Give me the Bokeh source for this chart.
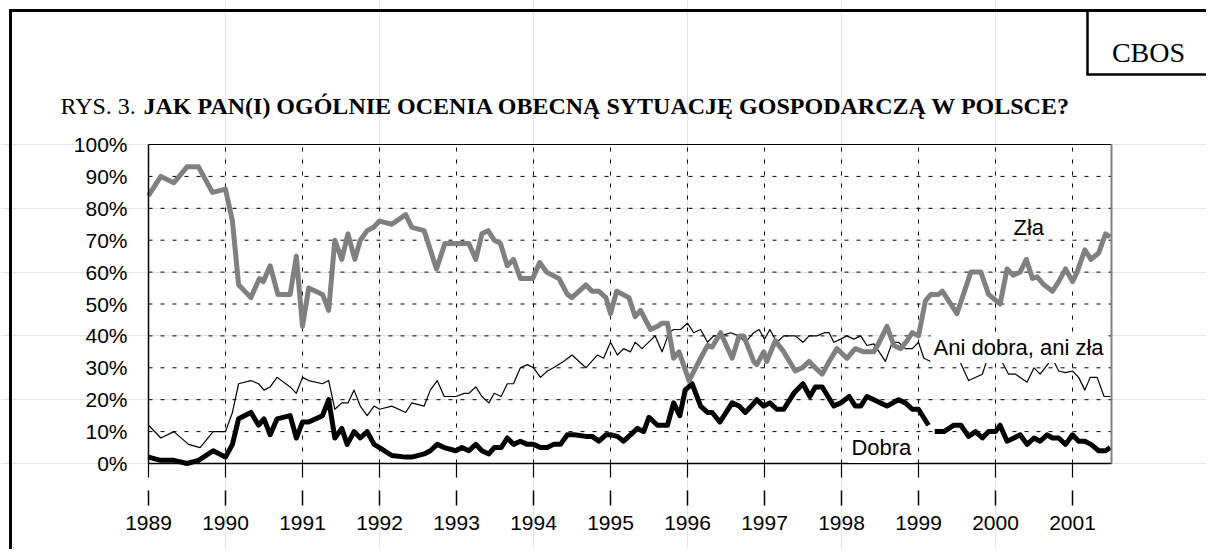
from bokeh.plotting import figure
from bokeh.models import Range1d, FixedTicker, Label, LinearAxis
from bokeh.embed import file_html
from bokeh.resources import INLINE

# ---------------- data ----------------
years = list(range(1989, 2002))
y_ticks = list(range(0, 101, 10))
x_start, x_end = 1989, 2001.5

zla_x = [1989.00, 1989.16, 1989.33, 1989.50, 1989.65, 1989.83, 1990.00, 1990.09, 1990.17, 1990.33,
         1990.44, 1990.49, 1990.58, 1990.68, 1990.84, 1990.92, 1991.00, 1991.08, 1991.26, 1991.34,
         1991.42, 1991.51, 1991.59, 1991.68, 1991.75, 1991.84, 1991.92, 1992.00, 1992.16, 1992.34,
         1992.42, 1992.58, 1992.74, 1992.85, 1992.99, 1993.16, 1993.25, 1993.33, 1993.41, 1993.49,
         1993.57, 1993.66, 1993.74, 1993.83, 1993.99, 1994.08, 1994.17, 1994.33, 1994.44, 1994.50,
         1994.68, 1994.76, 1994.85, 1994.94, 1995.00, 1995.08, 1995.24, 1995.32, 1995.39, 1995.52,
         1995.61, 1995.67, 1995.74, 1995.82, 1995.89, 1996.02, 1996.17, 1996.26, 1996.32, 1996.43,
         1996.58, 1996.67, 1996.73, 1996.86, 1996.90, 1996.99, 1997.03, 1997.14, 1997.25, 1997.40,
         1997.49, 1997.58, 1997.66, 1997.75, 1997.84, 1997.94, 1998.07, 1998.18, 1998.29, 1998.42,
         1998.48, 1998.59, 1998.68, 1998.77, 1998.85, 1998.92, 1999.00, 1999.09, 1999.16, 1999.26,
         1999.31, 1999.50, 1999.68, 1999.81, 1999.91, 2000.06, 2000.15, 2000.23, 2000.32, 2000.40,
         2000.48, 2000.54, 2000.63, 2000.74, 2000.82, 2000.91, 2001.00, 2001.06, 2001.16, 2001.24,
         2001.34, 2001.43, 2001.49]
zla_y = [84, 90, 88, 93, 93, 85, 86, 76, 56, 52,
         58, 57, 62, 53, 53, 65, 43, 55, 53, 48,
         70, 64, 72, 64, 70, 73, 74, 76, 75, 78,
         74, 73, 61, 69, 69, 69, 64, 72, 73, 70,
         69, 62, 64, 58, 58, 63, 60, 58, 53, 52,
         56, 54, 54, 52, 47, 54, 52, 46, 48, 42,
         43, 44, 44, 33, 35, 26, 33, 37, 36.5, 41,
         33, 40, 40, 32, 31, 35, 32, 38.5, 35, 29,
         30, 32, 30, 28, 32, 36, 33, 36, 35, 35,
         37.5, 43, 37, 36, 38.5, 41, 40, 51, 53, 53,
         54, 47, 60, 60, 53, 50, 61, 59, 60, 64,
         58, 58.5, 56, 54, 57, 61, 57, 60, 67, 64,
         66, 72, 71]

ani_x = [1989.00, 1989.16, 1989.33, 1989.52, 1989.67, 1989.84, 1990.00, 1990.09, 1990.17, 1990.33,
         1990.43, 1990.50, 1990.58, 1990.67, 1990.84, 1990.92, 1991.00, 1991.08, 1991.26, 1991.34,
         1991.42, 1991.51, 1991.59, 1991.67, 1991.75, 1991.84, 1991.93, 1992.00, 1992.16, 1992.34,
         1992.42, 1992.58, 1992.66, 1992.75, 1992.84, 1992.99, 1993.10, 1993.16, 1993.25, 1993.33,
         1993.42, 1993.49, 1993.58, 1993.66, 1993.74, 1993.83, 1993.92, 1994.00, 1994.09, 1994.18,
         1994.26, 1994.39, 1994.50, 1994.68, 1994.83, 1994.91, 1995.00, 1995.09, 1995.17, 1995.26,
         1995.32, 1995.41, 1995.58, 1995.67, 1995.76, 1995.82, 1995.91, 1996.00, 1996.08, 1996.17,
         1996.26, 1996.34, 1996.43, 1996.56, 1996.67, 1996.75, 1996.86, 1996.93, 1997.00, 1997.07,
         1997.16, 1997.25, 1997.40, 1997.50, 1997.58, 1997.68, 1997.78, 1997.84, 1997.90, 1997.99,
         1998.07, 1998.16, 1998.25, 1998.33, 1998.42, 1998.57, 1998.66, 1998.74, 1998.83, 1998.92,
         1999.00, 1999.07, 1999.16, 1999.42, 1999.50, 1999.65, 1999.83, 1999.91, 2000.00, 2000.06,
         2000.17, 2000.26, 2000.41, 2000.50, 2000.58, 2000.74, 2000.82, 2000.91, 2001.00, 2001.08,
         2001.16, 2001.23, 2001.32, 2001.41, 2001.49]
ani_y = [12, 8, 10, 6, 5, 10, 10, 16, 25, 26,
         25, 23, 24, 27, 24, 22, 27, 26, 25, 26,
         17, 19, 19, 23, 18, 15, 18, 17, 18, 16,
         19, 18, 23, 26, 21, 21, 22, 22, 24, 21,
         19, 22, 21, 25, 25, 30, 31, 30, 27, 29,
         30, 32, 34, 30, 34, 33, 38, 34, 36, 35,
         38, 36, 40, 35, 41, 42, 42, 44, 41, 42,
         38, 40, 40, 41, 40, 38, 41, 42, 39, 42,
         38, 40, 40, 38, 40, 40, 41, 41, 38, 39,
         40, 39, 40, 37, 37.5, 32, 38, 38, 36, 36,
         38, 33, 32, 32, 34, 26, 28, 34, 33, 33,
         28, 28, 25.5, 30, 28, 33, 29, 28.5, 29, 27,
         23, 27, 27, 21, 21]

dobra_x = [1989.00, 1989.16, 1989.33, 1989.50, 1989.65, 1989.84, 1990.00, 1990.09, 1990.17, 1990.33,
           1990.43, 1990.50, 1990.58, 1990.67, 1990.84, 1990.92, 1991.00, 1991.08, 1991.26, 1991.34,
           1991.42, 1991.51, 1991.58, 1991.67, 1991.75, 1991.84, 1991.93, 1992.00, 1992.16, 1992.34,
           1992.42, 1992.58, 1992.66, 1992.75, 1992.84, 1992.99, 1993.07, 1993.16, 1993.25, 1993.33,
           1993.42, 1993.49, 1993.58, 1993.66, 1993.74, 1993.83, 1993.92, 1994.00, 1994.09, 1994.18,
           1994.26, 1994.35, 1994.44, 1994.53, 1994.68, 1994.76, 1994.85, 1994.94, 1995.00, 1995.09,
           1995.17, 1995.26, 1995.35, 1995.43, 1995.50, 1995.61, 1995.74, 1995.82, 1995.90, 1995.97,
           1996.06, 1996.17, 1996.26, 1996.32, 1996.42, 1996.58, 1996.67, 1996.75, 1996.83, 1996.90,
           1996.99, 1997.07, 1997.16, 1997.25, 1997.38, 1997.50, 1997.59, 1997.66, 1997.75, 1997.90,
           1997.99, 1998.10, 1998.18, 1998.25, 1998.33, 1998.42, 1998.59, 1998.74, 1998.83, 1998.92,
           1999.00, 1999.13, 1999.17, 1999.21, 1999.33, 1999.46, 1999.55, 1999.65, 1999.74, 1999.83,
           1999.91, 2000.00, 2000.06, 2000.15, 2000.24, 2000.32, 2000.41, 2000.50, 2000.58, 2000.67,
           2000.74, 2000.82, 2000.91, 2001.00, 2001.08, 2001.16, 2001.24, 2001.34, 2001.43, 2001.49]
dobra_y = [2, 1, 1, 0, 1, 4, 2, 6, 14, 16,
           12, 14, 9, 14, 15, 8, 13, 13, 15, 20,
           8, 11, 6, 10, 8, 10, 6, 5, 2.5, 2,
           2, 3, 4, 6, 5, 4, 5, 4, 6, 4,
           3, 5, 5, 8, 6, 7, 6, 6, 5, 5,
           6, 6, 9, 9, 8.5, 8.5, 7, 9, 9, 8.5,
           7, 9, 11, 10, 14.5, 12, 12, 19, 15, 23,
           25, 18, 16, 16, 13, 19, 18, 16, 18, 20,
           18, 19, 17, 17, 22, 25, 21, 24, 24, 18,
           19, 21, 18, 18, 21, 20, 18, 20, 19, 17,
           17, 12, float("nan"), 10, 10, 12, 12, 8.5, 10, 8,
           10, 10, 12, 7, 8, 9, 6, 8, 7, 9,
           8, 8, 6, 9, 7, 7, 6, 4, 4, 5]

series_labels = ["Zła", "Ani dobra, ani zła", "Dobra"]
title_prefix = "RYS. 3."
title_main = "JAK PAN(I) OGÓLNIE OCENIA OBECNĄ SYTUACJĘ GOSPODARCZĄ W POLSCE?"
source_label = "CBOS"

# ---------------- layout constants (pixels) ----------------
W, H = 1206, 549
PLOT_LEFT, PX_PER_YEAR = 148, 77.0      # x of 1989, px per year
PLOT_ZERO, PX_PER_PCT = 463, 3.19       # y of 0 %, px per percentage point

x0 = x_start - PLOT_LEFT / PX_PER_YEAR
x1 = x_start + (W - PLOT_LEFT) / PX_PER_YEAR
y0 = -(H - PLOT_ZERO) / PX_PER_PCT
y1 = PLOT_ZERO / PX_PER_PCT


def px_x(px):
    """page pixel column -> x data value"""
    return x0 + px / PX_PER_YEAR


def px_y(py):
    """page pixel row (from top) -> y data value"""
    return y1 - py / PX_PER_PCT


p = figure(width=W, height=H, output_backend="svg", toolbar_location=None, title=None,
           x_range=Range1d(x0, x1), y_range=Range1d(y0, y1),
           x_axis_location=None, y_axis_location=None, min_border=0)
p.background_fill_color = "white"
p.border_fill_color = "white"
p.outline_line_color = None

SANS = "Liberation Sans"
SERIF = "Liberation Serif"

# page frame (left and top edges) and the CBOS box
p.line([px_x(10), px_x(10), px_x(W + 30)], [px_y(H + 30), px_y(10), px_y(10)],
       line_color="black", line_width=3, line_join="miter")
p.line([px_x(1087), px_x(1087), px_x(W + 30)], [px_y(10), px_y(74), px_y(74)],
       line_color="black", line_width=2.5, line_join="miter")

# dashed grid inside the plot area (from the tick lists)
p.multi_line([[yr, yr] for yr in years[1:]], [[0, 100] for _ in years[1:]],
             line_color="black", line_width=1, line_dash="4 8")
p.multi_line([[x_start, x_end] for _ in y_ticks[1:-1]], [[v, v] for v in y_ticks[1:-1]],
             line_color="black", line_width=1, line_dash="4 8")

# x axis at 0 % with short ticks
xa = LinearAxis(fixed_location=0, bounds=(x_start, x_end), ticker=FixedTicker(ticks=years))
xa.minor_tick_line_color = None
xa.major_tick_in = 0
xa.major_tick_out = 14
xa.major_tick_line_width = 1.2
xa.axis_line_color = "black"
xa.axis_line_width = 1.5
xa.major_label_text_color = None
p.add_layout(xa, "below")

# lower tick row with year labels
xb = LinearAxis(fixed_location=-(490 - PLOT_ZERO) / PX_PER_PCT, bounds=(x_start, x_end),
                ticker=FixedTicker(ticks=years))
xb.minor_tick_line_color = None
xb.axis_line_color = None
xb.major_tick_in = 0
xb.major_tick_out = 15
xb.major_tick_line_width = 1.5
xb.major_label_standoff = 10
xb.major_label_text_font = SANS
xb.major_label_text_font_size = "21px"
xb.major_label_text_color = "black"
p.add_layout(xb, "below")

# y axis
ya = LinearAxis(fixed_location=x_start, bounds=(0, 100), ticker=FixedTicker(ticks=y_ticks))
ya.major_label_overrides = {v: f"{v}%" for v in y_ticks}
ya.minor_tick_line_color = None
ya.major_tick_in = 0
ya.major_tick_out = 0
ya.axis_line_color = "black"
ya.axis_line_width = 1.5
ya.major_label_standoff = 21
ya.major_label_text_font = SANS
ya.major_label_text_font_size = "21px"
ya.major_label_text_color = "black"
p.add_layout(ya, "left")

# top and right edges of the plot area
top_edge = LinearAxis(fixed_location=100, bounds=(x_start, x_end), ticker=FixedTicker(ticks=[]))
top_edge.axis_line_color = "black"
top_edge.axis_line_width = 1
top_edge.major_tick_line_color = None
top_edge.minor_tick_line_color = None
top_edge.major_label_text_color = None
p.add_layout(top_edge, "above")

right_edge = LinearAxis(fixed_location=x_end, bounds=(0, 100), ticker=FixedTicker(ticks=[]))
right_edge.axis_line_color = "#808080"
right_edge.axis_line_width = 2
right_edge.major_tick_line_color = None
right_edge.minor_tick_line_color = None
right_edge.major_label_text_color = None
p.add_layout(right_edge, "right")

# series
p.line(ani_x, ani_y, line_color="black", line_width=1.2, line_join="round")
p.line(dobra_x, dobra_y, line_color="black", line_width=5, line_join="round")
p.line(zla_x, zla_y, line_color="#808080", line_width=5, line_join="round")

# series labels
p.add_layout(Label(x=2000.234, y=74.0, text=series_labels[0], text_font=SANS, text_font_size="22px",
                   text_baseline="alphabetic", text_color="black"))
p.add_layout(Label(x=1999.156, y=36.4, text=series_labels[1], text_font=SANS, text_font_size="22px",
                   text_baseline="alphabetic", text_color="black",
                   background_fill_color="white", padding=3))
p.add_layout(Label(x=1998.09, y=5.0, text=series_labels[2], text_font=SANS, text_font_size="22px",
                   text_baseline="alphabetic", text_color="black",
                   background_fill_color="white", padding=3))

# CBOS label
p.add_layout(Label(x=1148, y=H - 52, x_units="screen", y_units="screen", text=source_label,
                   text_font=SERIF, text_font_size="28px", text_align="center",
                   text_baseline="alphabetic", text_color="black"))

# title
p.add_layout(Label(x=60, y=H - 105, x_units="screen", y_units="screen", text=title_prefix,
                   text_font=SERIF, text_font_size="24px", text_baseline="alphabetic", text_color="black"))
p.add_layout(Label(x=143, y=H - 105, x_units="screen", y_units="screen", text=title_main,
                   text_font=SERIF, text_font_size="24px", text_font_style="bold",
                   text_baseline="alphabetic", text_color="black"))

open("out.html", "w").write(file_html(p, INLINE, "CBOS"))
